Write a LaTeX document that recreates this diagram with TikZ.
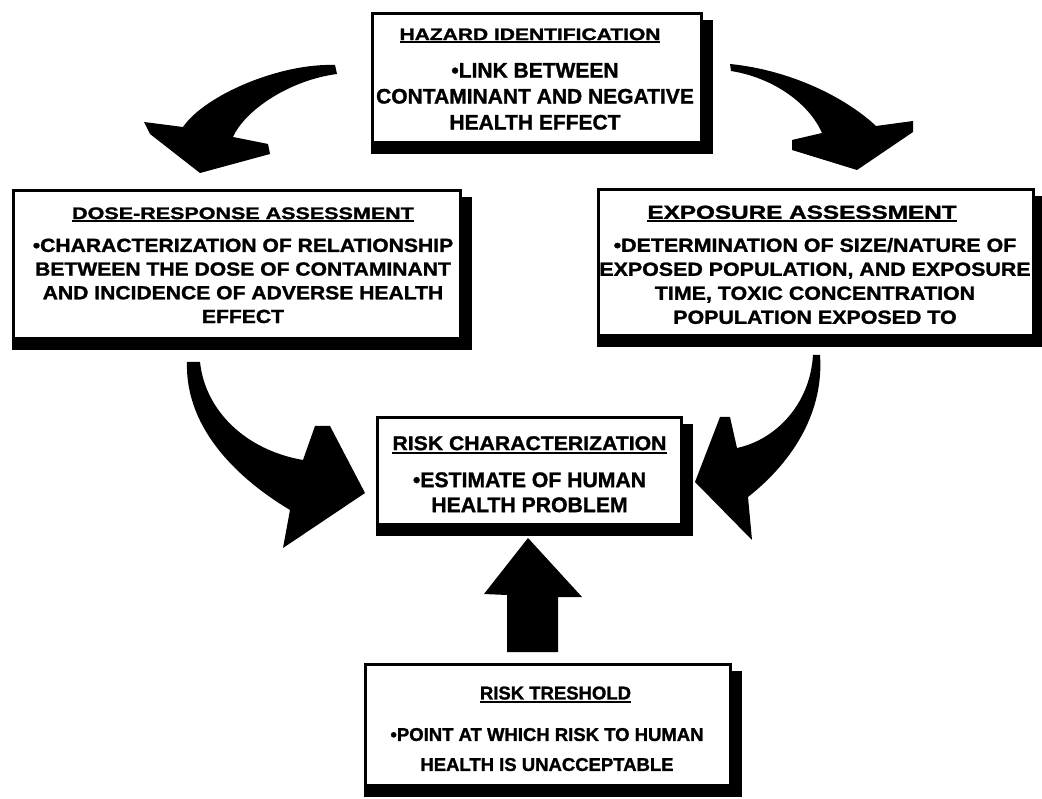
\documentclass[tikz,border=0pt]{standalone}
\usepackage{fontspec}
\setmainfont{Liberation Sans}[BoldFeatures={FakeBold=1.3}]
\usetikzlibrary{backgrounds}
\newcommand{\ulx}[1]{\setbox0=\hbox{#1}\rlap{\rule[-4pt]{\wd0}{2.4pt}}\box0}
\newcommand{\vs}[2]{\scalebox{1}[#1]{#2}}
\begin{document}
\begin{tikzpicture}[x=1pt,y=-1pt,
  box/.style={draw=black,line width=2.8pt,fill=white,inner sep=0pt},
  txt/.style={align=center,inner sep=0pt,anchor=north,text=black},
  shade/.style={fill=black},
  blockarrow/.style={fill=black}]
\useasboundingbox (0,0) rectangle (1042,799);
\begin{scope}[on background layer]
\fill[white] (0,0) rectangle (1042,799);
\end{scope}

% ---------- boxes ----------
\node[box,minimum width=329.2pt,minimum height=129.2pt] (haz) at (537,78) {};
\node[box,minimum width=447.2pt,minimum height=148.2pt] (dose) at (237,264.5) {};
\node[box,minimum width=435.2pt,minimum height=146.2pt] (expo) at (816,262.5) {};
\node[box,minimum width=304.2pt,minimum height=107.2pt] (risk) at (529.5,471) {};
\node[box,minimum width=365.2pt,minimum height=121.2pt] (thr) at (548,725) {};

% ---------- shadows ----------
\begin{scope}[on background layer]
\foreach \b in {haz,dose,expo,risk,thr}{
  \fill[shade] ([yshift=-8pt]\b.north west) rectangle ([xshift=10pt,yshift=-10pt]\b.south east);
}
\end{scope}

% ---------- texts ----------
\node[txt,font=\fontsize{21}{26}\selectfont\bfseries] (haz-t) at (535,28.2)
  {\vs{0.8}{\hbox{\ulx{HAZARD IDENTIFICATION}\kern10pt}}\\[11.4pt]
   •LINK BETWEEN\\
   CONTAMINANT AND NEGATIVE\\
   HEALTH EFFECT};

\node[txt,font=\fontsize{21.1}{23.7}\selectfont\bfseries] (dose-t) at (243,207.2)
  {\vs{0.78}{\fontsize{21.5}{23.7}\selectfont\ulx{DOSE-RESPONSE ASSESSMENT}}\\[9.1pt]
   \vs{0.9}{•CHARACTERIZATION OF RELATIONSHIP}\\
   \vs{0.9}{BETWEEN THE DOSE OF CONTAMINANT}\\
   \vs{0.9}{AND INCIDENCE OF ADVERSE HEALTH}\\
   \vs{0.9}{EFFECT}};

\node[txt,font=\fontsize{21.4}{24}\selectfont\bfseries] (expo-t) at (815,205.4)
  {\vs{0.78}{\fontsize{24.3}{24}\selectfont\hbox{\ulx{EXPOSURE ASSESSMENT}\kern26pt}}\\[9pt]
   \vs{0.89}{•DETERMINATION OF SIZE/NATURE OF}\\
   \vs{0.89}{EXPOSED POPULATION, AND EXPOSURE}\\
   \vs{0.89}{TIME, TOXIC\kern6pt CONCENTRATION}\\
   \vs{0.89}{POPULATION EXPOSED TO}};

\node[txt,font=\fontsize{21.2}{25}\selectfont\bfseries] (risk-t) at (529.5,436)
  {\vs{0.94}{\ulx{RISK CHARACTERIZATION}}\\[12pt]
   •ESTIMATE OF HUMAN\\
   HEALTH PROBLEM};

\node[txt,font=\fontsize{18.5}{30}\selectfont\bfseries] (thr-t) at (547,686.3)
  {\hbox{\kern17pt\ulx{RISK TRESHOLD}}\\[11.5pt]
   •POINT AT WHICH RISK TO HUMAN\\
   HEALTH IS UNACCEPTABLE};

% ---------- block arrows ----------
% hazard -> dose-response
\fill[blockarrow] (335,65) .. controls (280,63) and (205,95) .. (183,127)
  -- (144,122) -- (150,134) -- (200,173) -- (270,154) -- (268,144) -- (233,137)
  .. controls (245,110) and (290,80) .. (337,74) -- cycle;
% hazard -> exposure
\fill[blockarrow] (730,64) .. controls (790,70) and (845,97) .. (876,126)
  -- (913,121) -- (913,132) -- (857,170) -- (792,150) -- (792,140) -- (822,133)
  .. controls (810,105) and (775,78) .. (731,71) -- cycle;
% dose-response -> risk characterization
\fill[blockarrow] (187,362) -- (200,362) .. controls (205,410) and (245,450) .. (303,460)
  -- (315,426) -- (330,426) -- (365,493) -- (283,548) -- (290,510)
  .. controls (240,480) and (185,430) .. (187,362) -- cycle;
% exposure -> risk characterization
\fill[blockarrow] (813,355) -- (820,355) .. controls (824,410) and (795,460) .. (748,497)
  -- (752,540) -- (695,482) -- (720,417) -- (730,417) -- (737,448)
  .. controls (775,440) and (810,405) .. (813,355) -- cycle;
% threshold -> risk characterization
\fill[blockarrow] (507,652) -- (507,595) -- (484,594) -- (528,538) -- (582,597)
  -- (558,597) -- (558,652) -- cycle;
\end{tikzpicture}
\end{document}
